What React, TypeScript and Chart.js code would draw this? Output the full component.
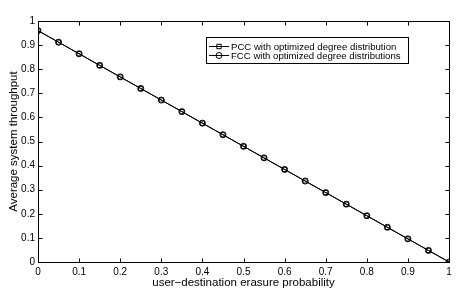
import React, { useEffect, useRef } from "react";
import { Chart, registerables } from "chart.js";

Chart.register(...registerables);

const xValues = [0, 0.05, 0.1, 0.15, 0.2, 0.25, 0.3, 0.35, 0.4, 0.45, 0.5, 0.55, 0.6, 0.65, 0.7, 0.75, 0.8, 0.85, 0.9, 0.95, 1];
const pccValues = [0.96, 0.912, 0.864, 0.816, 0.768, 0.72, 0.672, 0.624, 0.576, 0.528, 0.48, 0.432, 0.384, 0.336, 0.288, 0.24, 0.192, 0.144, 0.096, 0.048, 0];
const fccValues = [0.96, 0.912, 0.864, 0.816, 0.768, 0.72, 0.672, 0.624, 0.576, 0.528, 0.48, 0.432, 0.384, 0.336, 0.288, 0.24, 0.192, 0.144, 0.096, 0.048, 0];
const seriesLabels = ["PCC with optimized degree distribution", "FCC with optimized degree distributions"];
const seriesMarkers = ["rect", "circle"];
const xTitle = "user\u2212destination erasure probability";
const yTitle = "Average system throughput";

const FONT = '"Liberation Sans", Arial, Helvetica, sans-serif';

function fmt(v: number): string {
  return String(Number(v.toFixed(2)));
}

const framePlugin = {
  id: "frameTicks",
  afterDatasetsDraw(chart: any) {
    const { ctx, chartArea } = chart;
    const xs = chart.scales.x;
    const ys = chart.scales.y;
    const L = Math.round(chartArea.left) + 0.5;
    const R = Math.round(chartArea.right) + 0.5;
    const T = Math.round(chartArea.top) + 0.5;
    const B = Math.round(chartArea.bottom) + 0.5;
    ctx.save();
    ctx.strokeStyle = "#000";
    ctx.lineWidth = 1;
    ctx.strokeRect(L, T, R - L, B - T);
    const len = 4;
    ctx.beginPath();
    xs.ticks.forEach((t: any) => {
      const p = Math.round(xs.getPixelForValue(t.value)) + 0.5;
      ctx.moveTo(p, B);
      ctx.lineTo(p, B - len);
      ctx.moveTo(p, T);
      ctx.lineTo(p, T + len);
    });
    ys.ticks.forEach((t: any) => {
      const p = Math.round(ys.getPixelForValue(t.value)) + 0.5;
      ctx.moveTo(L, p);
      ctx.lineTo(L + len, p);
      ctx.moveTo(R, p);
      ctx.lineTo(R - len, p);
    });
    ctx.stroke();
    ctx.restore();
  },
  afterDraw(chart: any) {
    const { ctx } = chart;
    const bx = 206.5, by = 37.5, bw = 202, bh = 26;
    ctx.save();
    ctx.fillStyle = "#fff";
    ctx.fillRect(bx, by, bw, bh);
    ctx.strokeStyle = "#000";
    ctx.lineWidth = 1;
    ctx.strokeRect(bx, by, bw, bh);
    ctx.font = "9.6px " + FONT;
    ctx.textBaseline = "middle";
    ctx.fillStyle = "#000";
    chart.data.datasets.forEach((ds: any, i: number) => {
      const y = Math.round(by + 8 + i * 9.5) + 0.5;
      ctx.beginPath();
      ctx.moveTo(209, y);
      ctx.lineTo(229, y);
      ctx.stroke();
      const cx = 219;
      ctx.beginPath();
      if (ds.pointStyle === "rect") {
        const s = 2.2;
        ctx.rect(cx - s, y - s, 2 * s, 2 * s);
      } else {
        ctx.arc(cx, y, 3, 0, Math.PI * 2);
      }
      ctx.stroke();
      ctx.fillText(ds.label, 231, y + 0.5);
    });
    ctx.restore();
  },
};

export default function App() {
  const ref = useRef<HTMLCanvasElement | null>(null);
  useEffect(() => {
    if (!ref.current) return;
    const mk = (vals: number[]) => xValues.map((x, i) => ({ x, y: vals[i] }));
    const chart = new Chart(ref.current, {
      type: "line",
      data: {
        datasets: [pccValues, fccValues].map((vals, i) => ({
          label: seriesLabels[i],
          data: mk(vals),
          borderColor: "#000",
          borderWidth: 1,
          pointStyle: seriesMarkers[i] as any,
          pointRadius: 3,
          pointBorderWidth: 1,
          pointBorderColor: "#000",
          pointBackgroundColor: "rgba(0,0,0,0)",
          fill: false,
          tension: 0,
        })),
      },
      options: {
        animation: false,
        responsive: false,
        events: [],
        layout: { padding: { top: 21, right: 14, left: 0, bottom: 0 } },
        plugins: { legend: { display: false }, tooltip: { enabled: false } },
        scales: {
          x: {
            type: "linear",
            min: 0,
            max: 1,
            grid: { display: false, drawTicks: false },
            border: { display: false },
            ticks: {
              stepSize: 0.1,
              padding: 4,
              maxRotation: 0,
              autoSkip: false,
              color: "#000",
              font: { family: FONT, size: 10 },
              callback: (v: any) => fmt(Number(v)),
            },
            title: {
              display: true,
              text: xTitle,
              color: "#000",
              font: { family: FONT, size: 11.5 },
              padding: { top: 0, bottom: 4 },
            },
            afterFit: (s: any) => {
              s.height = 32;
            },
          },
          y: {
            type: "linear",
            min: 0,
            max: 1,
            grid: { display: false, drawTicks: false },
            border: { display: false },
            ticks: {
              stepSize: 0.1,
              padding: 3,
              autoSkip: false,
              color: "#000",
              font: { family: FONT, size: 10 },
              callback: (v: any) => fmt(Number(v)),
            },
            title: {
              display: true,
              text: yTitle,
              color: "#000",
              font: { family: FONT, size: 11.5 },
              padding: { top: 7, bottom: 0 },
            },
            afterFit: (s: any) => {
              s.width = 38;
            },
          },
        },
      },
      plugins: [framePlugin],
    });
    return () => chart.destroy();
  }, []);
  return (
    <div style={{ position: "absolute", left: 0, top: 0, width: 463, height: 294, background: "#fff" }}>
      <canvas ref={ref} width={463} height={294} style={{ display: "block" }} />
    </div>
  );
}
